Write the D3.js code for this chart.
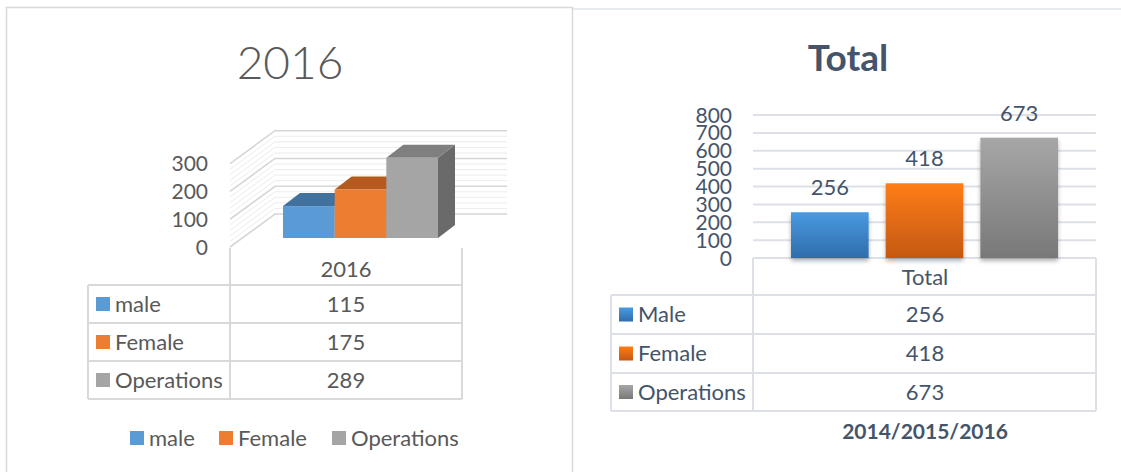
<!DOCTYPE html>
<html><head><meta charset="utf-8">
<script src="https://cdn.jsdelivr.net/npm/d3@7"></script>
<style>
html,body{margin:0;padding:0;background:#fff;}
svg{display:block;font-family:Lato,"Open Sans",sans-serif;}
</style></head>
<body>
<svg id="c" width="1121" height="472"></svg>
<script>
// ---- data ----
const cats2016 = ["male", "Female", "Operations"];
const values2016 = [115, 175, 289];
const ticks2016 = [0, 100, 200, 300];
const header2016 = "2016";
const title2016 = "2016";

const catsTotal = ["Male", "Female", "Operations"];
const valuesTotal = [256, 418, 673];
const ticksTotal = [0, 100, 200, 300, 400, 500, 600, 700, 800];
const headerTotal = "Total";
const titleTotal = "Total";
const footerTotal = "2014/2015/2016";

// ---- styles ----
const front3d = ["#5b9bd5", "#ed7d31", "#a5a5a5"];
const top3d = ["#41719c", "#b45a1f", "#7f7f7f"];
const side3d = ["#3a6690", "#a0501b", "#6a6a6a"];
const gradTop = ["#4a9ae2", "#ff7d15", "#a7a7a7"];
const gradBot = ["#2f6dab", "#c45811", "#787878"];
const leftText = "#595959", rightText = "#44546a";
const fs = 22;

const svg = d3.select("#c");
const defs = svg.append("defs");
gradTop.forEach((c, i) => {
  const g = defs.append("linearGradient").attr("id", "g" + i).attr("x1", 0).attr("y1", 0).attr("x2", 0).attr("y2", 1);
  g.append("stop").attr("offset", "0%").attr("stop-color", c);
  g.append("stop").attr("offset", "100%").attr("stop-color", gradBot[i]);
});
const f = defs.append("filter").attr("id", "sh").attr("x", "-20%").attr("y", "-20%").attr("width", "140%").attr("height", "140%");
f.append("feDropShadow").attr("dx", 0).attr("dy", 3).attr("stdDeviation", 2).attr("flood-color", "#000").attr("flood-opacity", 0.3);

// panel borders
svg.append("rect").attr("x", 6.5).attr("y", 7.5).attr("width", 566).attr("height", 480)
  .attr("fill", "none").attr("stroke", "#d9d9d9").attr("stroke-width", 1.5);
svg.append("line").attr("x1", 573).attr("x2", 1121).attr("y1", 9).attr("y2", 9)
  .attr("stroke", "#dfe3ea").attr("stroke-width", 1.5);

// ================= LEFT: 3D chart =================
const L = svg.append("g");
L.append("text").attr("x", 290).attr("y", 62).attr("dy", "0.36em").attr("text-anchor", "middle")
  .attr("font-size", 46).attr("font-weight", 300).attr("fill", leftText).text(title2016);

const floorX = 230, floorY = 247, wallDx = 45, wallDy = -33, wallRight = 507;
const h3 = d3.scaleLinear().domain([0, 300]).range([0, 83.3]);
const minor = d3.range(0, 301, 20);
L.append("g").selectAll("path").data(minor).join("path")
  .attr("d", v => `M${floorX},${floorY - h3(v)}L${floorX + wallDx},${floorY + wallDy - h3(v)}L${wallRight},${floorY + wallDy - h3(v)}`)
  .attr("fill", "none")
  .attr("stroke", v => v % 100 === 0 ? "#d6d6d6" : "#ececec")
  .attr("stroke-width", v => v % 100 === 0 ? 1.6 : 1);

L.append("g").selectAll("text").data(ticks2016).join("text")
  .attr("x", 208).attr("y", v => floorY - h3(v)).attr("dy", "0.36em").attr("text-anchor", "end")
  .attr("font-size", 21).attr("fill", leftText).text(d => d);

const x3 = d3.scaleBand().domain(cats2016).range([283, 438]).padding(0);
const base3 = 238, bDx = 17, bDy = -13;
const bars3 = L.append("g").selectAll("g").data(values2016).join("g");
bars3.each(function (v, i) {
  const g = d3.select(this);
  const x0 = x3(cats2016[i]), w = x3.bandwidth(), yt = base3 - h3(v);
  g.append("path").attr("d", `M${x0 + w},${base3}L${x0 + w + bDx},${base3 + bDy}L${x0 + w + bDx},${yt + bDy}L${x0 + w},${yt}Z`).attr("fill", side3d[i]);
  g.append("path").attr("d", `M${x0},${yt}L${x0 + bDx},${yt + bDy}L${x0 + w + bDx},${yt + bDy}L${x0 + w},${yt}Z`).attr("fill", top3d[i]);
  g.append("rect").attr("x", x0).attr("y", yt).attr("width", w).attr("height", base3 - yt).attr("fill", front3d[i]);
});

// left data table
const lt = L.append("g").attr("stroke", "#d9d9d9").attr("stroke-width", 2);
const lRows = [285, 323, 361, 399];
lt.append("line").attr("x1", 230).attr("x2", 230).attr("y1", 248).attr("y2", 399);
lt.append("line").attr("x1", 462).attr("x2", 462).attr("y1", 248).attr("y2", 399);
lt.append("line").attr("x1", 88).attr("x2", 88).attr("y1", 285).attr("y2", 399);
lRows.forEach(y => lt.append("line").attr("x1", 88).attr("x2", 462).attr("y1", y).attr("y2", y));
L.append("text").attr("x", 346).attr("y", 269).attr("dy", "0.36em").attr("text-anchor", "middle")
  .attr("font-size", fs).attr("fill", leftText).text(header2016);
cats2016.forEach((c, i) => {
  const yc = (lRows[i] + lRows[i + 1]) / 2;
  L.append("rect").attr("x", 96).attr("y", yc - 7).attr("width", 14).attr("height", 14).attr("fill", front3d[i]);
  L.append("text").attr("x", 115).attr("y", yc).attr("dy", "0.36em").attr("font-size", fs).attr("fill", leftText).text(c);
  L.append("text").attr("x", 346).attr("y", yc).attr("dy", "0.36em").attr("text-anchor", "middle").attr("font-size", fs).attr("fill", leftText).text(values2016[i]);
});
// left legend
const legX = [130, 219, 332];
cats2016.forEach((c, i) => {
  L.append("rect").attr("x", legX[i]).attr("y", 431).attr("width", 14).attr("height", 14).attr("fill", front3d[i]);
  L.append("text").attr("x", legX[i] + 19).attr("y", 438).attr("dy", "0.36em").attr("font-size", fs).attr("fill", leftText).text(c);
});

// ================= RIGHT: Total chart =================
const R = svg.append("g");
R.append("text").attr("x", 848).attr("y", 58).attr("dy", "0.36em").attr("text-anchor", "middle")
  .attr("font-size", 37).attr("font-weight", 700).attr("fill", rightText).text(titleTotal);

const yR = d3.scaleLinear().domain([0, 800]).range([258, 115]);
const xR = d3.scaleBand().domain(catsTotal).range([791, 1058]).paddingInner(0.18).paddingOuter(0);
R.append("g").selectAll("line").data(ticksTotal).join("line")
  .attr("x1", 753).attr("x2", 1096).attr("y1", v => yR(v)).attr("y2", v => yR(v))
  .attr("stroke", "#dde1e7").attr("stroke-width", 2);
R.append("g").selectAll("text").data(ticksTotal).join("text")
  .attr("x", 732).attr("y", v => yR(v)).attr("dy", "0.36em").attr("text-anchor", "end")
  .attr("font-size", 21).attr("fill", rightText).text(d => d);

// table (drawn before bars so shadows sit on top)
const rt = R.append("g").attr("stroke", "#dde1e7").attr("stroke-width", 2);
const rRows = [295, 334, 373, 411];
rt.append("line").attr("x1", 753).attr("x2", 753).attr("y1", 258).attr("y2", 411);
rt.append("line").attr("x1", 1096).attr("x2", 1096).attr("y1", 258).attr("y2", 411);
rt.append("line").attr("x1", 611).attr("x2", 611).attr("y1", 295).attr("y2", 411);
rRows.forEach(y => rt.append("line").attr("x1", 611).attr("x2", 1096).attr("y1", y).attr("y2", y));

R.append("g").selectAll("rect").data(valuesTotal).join("rect")
  .attr("x", (d, i) => xR(catsTotal[i])).attr("width", xR.bandwidth())
  .attr("y", d => yR(d)).attr("height", d => yR(0) - yR(d))
  .attr("fill", (d, i) => `url(#g${i})`).attr("filter", "url(#sh)");
R.append("g").selectAll("text").data(valuesTotal).join("text")
  .attr("x", (d, i) => xR(catsTotal[i]) + xR.bandwidth() / 2).attr("y", d => yR(d) - 25)
  .attr("dy", "0.36em").attr("text-anchor", "middle").attr("font-size", 22).attr("fill", rightText).text(d => d);

R.append("text").attr("x", 925).attr("y", 277).attr("dy", "0.36em").attr("text-anchor", "middle")
  .attr("font-size", fs).attr("fill", rightText).text(headerTotal);
catsTotal.forEach((c, i) => {
  const yc = (rRows[i] + rRows[i + 1]) / 2;
  R.append("rect").attr("x", 619).attr("y", yc - 7).attr("width", 14).attr("height", 14).attr("fill", `url(#g${i})`);
  R.append("text").attr("x", 638).attr("y", yc).attr("dy", "0.36em").attr("font-size", fs).attr("fill", rightText).text(c);
  R.append("text").attr("x", 925).attr("y", yc).attr("dy", "0.36em").attr("text-anchor", "middle").attr("font-size", fs).attr("fill", rightText).text(valuesTotal[i]);
});
R.append("text").attr("x", 925).attr("y", 431).attr("dy", "0.36em").attr("text-anchor", "middle")
  .attr("font-size", 21).attr("font-weight", 700).attr("fill", rightText).text(footerTotal);
</script>
</body></html>
